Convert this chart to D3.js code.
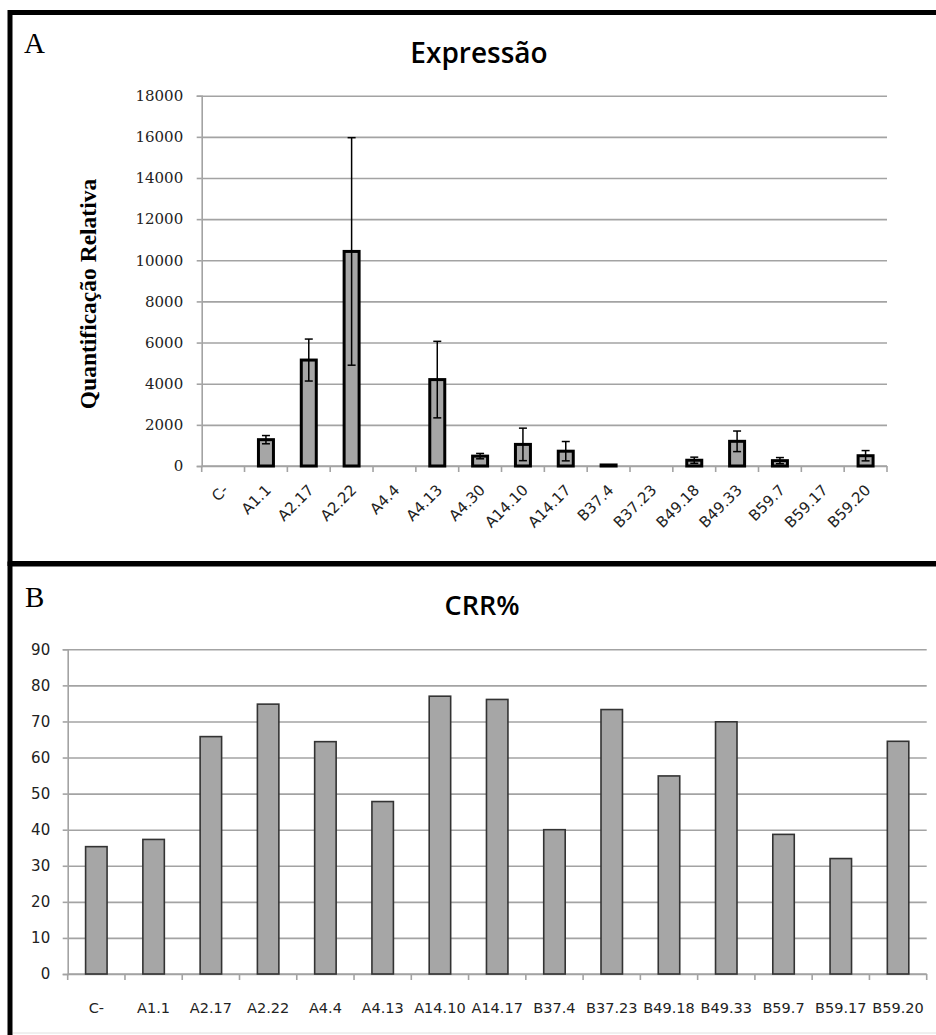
<!DOCTYPE html>
<html>
<head>
<meta charset="utf-8">
<script src="https://cdn.jsdelivr.net/npm/d3@7"></script>
<style>
  body { margin: 0; background: #fff; }
</style>
</head>
<body>
<div id="chart"></div>
<script>
// data
var catsA = ["C-", "A1.1", "A2.17", "A2.22", "A4.4", "A4.13", "A4.30", "A14.10", "A14.17", "B37.4", "B37.23", "B49.18", "B49.33", "B59.7", "B59.17", "B59.20"];
var exprA = [0, 1280, 5150, 10430, 0, 4200, 480, 1050, 720, 50, 0, 280, 1200, 260, 0, 500];
var errA  = [0, 200, 1020, 5530, 0, 1860, 130, 790, 470, 0, 0, 150, 500, 150, 0, 250];
var ticksA = [0, 2000, 4000, 6000, 8000, 10000, 12000, 14000, 16000, 18000];

var catsB = ["C-", "A1.1", "A2.17", "A2.22", "A4.4", "A4.13", "A14.10", "A14.17", "B37.4", "B37.23", "B49.18", "B49.33", "B59.7", "B59.17", "B59.20"];
var crrB = [35.3, 37.3, 65.8, 74.8, 64.4, 47.8, 77.0, 76.1, 40.0, 73.3, 54.9, 69.9, 38.7, 32.0, 64.5];
var ticksB = [0, 10, 20, 30, 40, 50, 60, 70, 80, 90];

var W = 936, H = 1035;
var svg = d3.select("#chart").append("svg").attr("width", W).attr("height", H);
svg.append("rect").attr("width", W).attr("height", H).attr("fill", "#fff");

var gridColor = "#a3a3a3";
var barFill = "#a6a6a6";

// ---------- panel frames ----------
svg.append("rect").attr("x", 10).attr("y", 12.5).attr("width", 960).attr("height", 551)
  .attr("fill", "none").attr("stroke", "#000").attr("stroke-width", 5);
svg.append("rect").attr("x", 10).attr("y", 564).attr("width", 960).attr("height", 500)
  .attr("fill", "none").attr("stroke", "#000").attr("stroke-width", 5);
svg.append("line").attr("x1", 13).attr("x2", W).attr("y1", 1033).attr("y2", 1033)
  .attr("stroke", "#e0e0e0").attr("stroke-width", 1);

// ---------- panel A ----------
var xA = d3.scaleBand().domain(catsA).range([201.7, 887]).paddingInner(0.65).paddingOuter(0.325);
var yA = d3.scaleLinear().domain([0, 18000]).range([466, 95.7]);

svg.append("text").attr("x", 24).attr("y", 53)
  .style("font-family", "'Liberation Serif', 'Times New Roman', serif").style("font-size", "29px")
  .text("A");
svg.append("text").attr("x", 479).attr("y", 63).attr("text-anchor", "middle")
  .style("font-family", "'Open Sans', sans-serif").style("font-size", "28px").style("font-weight", 600)
  .text("Expressão");

// gridlines
var gridA = svg.append("g").attr("transform", "translate(201.7,0)")
  .call(d3.axisLeft(yA).tickValues(ticksA).tickSize(-(887 - 201.7)).tickFormat(""));
gridA.select(".domain").remove();
gridA.selectAll("line").attr("stroke", gridColor).attr("stroke-width", 1.6);

// y axis
var axA = svg.append("g").attr("transform", "translate(201.7,0)")
  .call(d3.axisLeft(yA).tickValues(ticksA).tickSize(5).tickPadding(13.5).tickFormat(d3.format("d")));
axA.select(".domain").attr("stroke", gridColor).attr("stroke-width", 1.6);
axA.selectAll("line").attr("stroke", gridColor).attr("stroke-width", 1.6);
axA.selectAll("text").style("font-family", "'DejaVu Serif', serif").style("font-size", "15px").attr("fill", "#222");

// x axis line and category boundary ticks
svg.append("line").attr("x1", xA.range()[0]).attr("x2", xA.range()[1]).attr("y1", yA(0)).attr("y2", yA(0))
  .attr("stroke", gridColor).attr("stroke-width", 1.6);
svg.append("g").selectAll("line").data(d3.range(catsA.length + 1)).enter().append("line")
  .attr("x1", function(i) { return xA.range()[0] + i * xA.step(); })
  .attr("x2", function(i) { return xA.range()[0] + i * xA.step(); })
  .attr("y1", yA(0)).attr("y2", yA(0) + 6)
  .attr("stroke", gridColor).attr("stroke-width", 1.6);

// bars
svg.append("g").selectAll("rect").data(catsA).enter().append("rect")
  .filter(function(d, i) { return exprA[i] > 0; })
  .attr("x", function(d) { return xA(d); })
  .attr("width", xA.bandwidth())
  .attr("y", function(d) { return yA(exprA[catsA.indexOf(d)]); })
  .attr("height", function(d) { return yA(0) - yA(exprA[catsA.indexOf(d)]); })
  .attr("fill", barFill).attr("stroke", "#000").attr("stroke-width", 3);

// error bars
var eb = svg.append("g").selectAll("g").data(catsA).enter().append("g")
  .filter(function(d, i) { return errA[i] > 0; });
eb.append("line")
  .attr("x1", function(d) { return xA(d) + xA.bandwidth() / 2; })
  .attr("x2", function(d) { return xA(d) + xA.bandwidth() / 2; })
  .attr("y1", function(d) { var i = catsA.indexOf(d); return yA(exprA[i] + errA[i]); })
  .attr("y2", function(d) { var i = catsA.indexOf(d); return yA(exprA[i] - errA[i]); })
  .attr("stroke", "#000").attr("stroke-width", 1.5);
[1, -1].forEach(function(s) {
  eb.append("line")
    .attr("x1", function(d) { return xA(d) + xA.bandwidth() / 2 - 4; })
    .attr("x2", function(d) { return xA(d) + xA.bandwidth() / 2 + 4; })
    .attr("y1", function(d) { var i = catsA.indexOf(d); return yA(exprA[i] + s * errA[i]); })
    .attr("y2", function(d) { var i = catsA.indexOf(d); return yA(exprA[i] + s * errA[i]); })
    .attr("stroke", "#000").attr("stroke-width", 1.5);
});

// rotated category labels
svg.append("g").selectAll("text").data(catsA).enter().append("text")
  .attr("transform", function(d) { return "translate(" + (xA(d) + xA.bandwidth() / 2 + 6) + ",491) rotate(-45)"; })
  .attr("text-anchor", "end")
  .style("font-family", "'DejaVu Sans', sans-serif").style("font-size", "15px").attr("fill", "#222")
  .text(function(d) { return d; });

// y title
svg.append("text").attr("transform", "translate(96,294) rotate(-90)").attr("text-anchor", "middle")
  .style("font-family", "'Liberation Serif', 'Times New Roman', serif").style("font-size", "23.5px").style("font-weight", "bold")
  .text("Quantificação Relativa");

// ---------- panel B ----------
var xB = d3.scaleBand().domain(catsB).range([67.7, 926.7]).paddingInner(0.625).paddingOuter(0.3125);
var yB = d3.scaleLinear().domain([0, 90]).range([974, 649.3]);

svg.append("text").attr("x", 25).attr("y", 607)
  .style("font-family", "'Liberation Serif', 'Times New Roman', serif").style("font-size", "29px")
  .text("B");
svg.append("text").attr("x", 482).attr("y", 615).attr("text-anchor", "middle")
  .style("font-family", "'Open Sans', sans-serif").style("font-size", "27px").style("font-weight", 600)
  .text("CRR%");

var gridB = svg.append("g").attr("transform", "translate(67.7,0)")
  .call(d3.axisLeft(yB).tickValues(ticksB).tickSize(-(926.7 - 67.7)).tickFormat(""));
gridB.select(".domain").remove();
gridB.selectAll("line").attr("stroke", gridColor).attr("stroke-width", 1.6);

var axB = svg.append("g").attr("transform", "translate(67.7,0)")
  .call(d3.axisLeft(yB).tickValues(ticksB).tickSize(5).tickPadding(12.5));
axB.select(".domain").attr("stroke", gridColor).attr("stroke-width", 1.6);
axB.selectAll("line").attr("stroke", gridColor).attr("stroke-width", 1.6);
axB.selectAll("text").style("font-family", "'DejaVu Sans', sans-serif").style("font-size", "15px").attr("fill", "#222");

svg.append("line").attr("x1", xB.range()[0]).attr("x2", xB.range()[1]).attr("y1", yB(0)).attr("y2", yB(0))
  .attr("stroke", gridColor).attr("stroke-width", 1.6);
svg.append("g").selectAll("line").data(d3.range(catsB.length + 1)).enter().append("line")
  .attr("x1", function(i) { return xB.range()[0] + i * xB.step(); })
  .attr("x2", function(i) { return xB.range()[0] + i * xB.step(); })
  .attr("y1", yB(0)).attr("y2", yB(0) + 6)
  .attr("stroke", gridColor).attr("stroke-width", 1.6);

svg.append("g").selectAll("rect").data(catsB).enter().append("rect")
  .attr("x", function(d) { return xB(d); })
  .attr("width", xB.bandwidth())
  .attr("y", function(d, i) { return yB(crrB[i]); })
  .attr("height", function(d, i) { return yB(0) - yB(crrB[i]); })
  .attr("fill", barFill).attr("stroke", "#333").attr("stroke-width", 1.6);

svg.append("g").selectAll("text").data(catsB).enter().append("text")
  .attr("x", function(d) { return xB(d) + xB.bandwidth() / 2; })
  .attr("y", 1013).attr("text-anchor", "middle")
  .style("font-family", "'DejaVu Sans', sans-serif").style("font-size", "14.5px").attr("fill", "#222")
  .text(function(d) { return d; });
</script>
</body>
</html>
